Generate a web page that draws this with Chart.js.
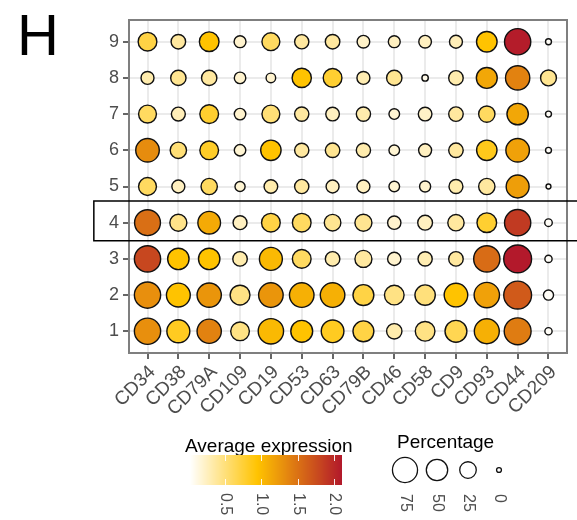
<!DOCTYPE html>
<html>
<head>
<meta charset="utf-8">
<script src="https://cdn.jsdelivr.net/npm/chart.js@4.4.1/dist/chart.umd.min.js"></script>
<style>
  html, body { margin: 0; padding: 0; background: #fff; }
  #wrap { width: 577px; height: 520px; }
</style>
</head>
<body>
<div id="wrap"><canvas id="dotChart" width="577" height="520"></canvas></div>
<script>
// ---- data ----
const genes = ["CD34","CD38","CD79A","CD109","CD19","CD53","CD63","CD79B","CD46","CD58","CD9","CD93","CD44","CD209"];
const clusters = [1, 2, 3, 4, 5, 6, 7, 8, 9];

// % of cells expressing, one row per cluster (1 -> 9), columns follow genes
const pct = [
  [84, 60, 69, 35, 77, 53, 58, 47, 20, 40, 53, 74, 89, 1],
  [84, 66, 69, 41, 71, 71, 71, 47, 40, 44, 64, 77, 97, 5],
  [84, 50, 50, 17, 60, 35, 17, 27, 13, 16, 17, 84, 97, 1],
  [81, 27, 58, 15, 35, 35, 25, 27, 13, 18, 24, 40, 84, 1.3],
  [31, 12, 24, 5, 14, 16, 12, 12, 6, 7, 15, 24, 60, 0],
  [64, 24, 35, 8, 44, 16, 17, 16, 6, 12, 17, 44, 64, 0.2],
  [31, 15, 35, 8, 31, 16, 14, 16, 6, 14, 17, 24, 50, 0.2],
  [12, 20, 20, 8, 4, 38, 35, 12, 20, 0.4, 17, 47, 69, 22],
  [35, 17, 40, 9, 31, 16, 17, 11, 9, 11, 12, 45, 84, 0.2]
];

// average expression, same layout
const avgExp = [
  [1.30, 0.83, 1.39, 0.47, 1.02, 0.95, 0.83, 0.70, 0.32, 0.47, 0.65, 1.08, 1.43, 0.05],
  [1.30, 0.95, 1.26, 0.47, 1.26, 1.08, 1.08, 0.70, 0.47, 0.50, 0.95, 1.18, 1.66, 0.05],
  [1.79, 0.95, 0.95, 0.32, 1.02, 0.60, 0.32, 0.37, 0.20, 0.30, 0.37, 1.54, 2.10, 0.05],
  [1.52, 0.45, 1.12, 0.25, 0.70, 0.60, 0.42, 0.42, 0.20, 0.25, 0.37, 0.77, 1.88, 0.05],
  [0.60, 0.25, 0.60, 0.18, 0.32, 0.37, 0.25, 0.25, 0.18, 0.20, 0.32, 0.37, 1.20, 0.05],
  [1.32, 0.52, 0.80, 0.18, 0.95, 0.37, 0.42, 0.32, 0.18, 0.25, 0.37, 0.85, 1.18, 0.05],
  [0.60, 0.28, 0.78, 0.20, 0.52, 0.37, 0.25, 0.32, 0.18, 0.22, 0.37, 0.60, 1.14, 0.05],
  [0.32, 0.42, 0.37, 0.20, 0.20, 0.95, 0.77, 0.30, 0.42, 0.10, 0.32, 1.14, 1.39, 0.42],
  [0.70, 0.37, 0.95, 0.20, 0.60, 0.37, 0.37, 0.22, 0.25, 0.25, 0.28, 0.95, 2.08, 0.05]
];

const expTicks = [0.5, 1.0, 1.5, 2.0];
const pctBreaks = [75, 50, 25, 0];
const highlightCluster = 4;

// colour scale limits and stops (white -> gold -> dark red)
const expMin = 0.02, expMax = 2.11;
const colorStops = [
  { v: 0.02, c: [255, 255, 255] },
  { v: 0.95, c: [255, 195, 0] },
  { v: 2.11, c: [178, 24, 43] }
];

function expColor(v) {
  v = Math.min(Math.max(v, colorStops[0].v), colorStops[colorStops.length - 1].v);
  for (let i = 0; i < colorStops.length - 1; i++) {
    const a = colorStops[i], b = colorStops[i + 1];
    if (v <= b.v) {
      const t = (v - a.v) / (b.v - a.v);
      const c = a.c.map((ch, k) => Math.round(ch + (b.c[k] - ch) * t));
      return "rgb(" + c.join(",") + ")";
    }
  }
  return "rgb(" + colorStops[colorStops.length - 1].c.join(",") + ")";
}

// dot size: diameter grows with sqrt of percentage
const DOT_BORDER = 1.4;
function dotRadius(p) {
  const d = 6.3 + 2.33 * Math.sqrt(p);
  return (d - DOT_BORDER) / 2;
}

const points = [];
clusters.forEach((cl, ci) => {
  genes.forEach((g, gi) => {
    points.push({ x: gi, y: cl, r: dotRadius(pct[ci][gi]), avg: avgExp[ci][gi] });
  });
});

const FONT = "'Liberation Sans', Arial, sans-serif";

// panel border, cluster box, legends and panel letter
const decorPlugin = {
  id: "decor",
  afterDatasetsDraw(chart) {
    const { ctx, chartArea: a, scales: { x, y } } = chart;
    ctx.save();
    ctx.strokeStyle = "#7f7f7f";
    ctx.lineWidth = 2;
    ctx.strokeRect(a.left, a.top, a.right - a.left, a.bottom - a.top);

    const top = y.getPixelForValue(highlightCluster + 0.6);
    const bot = y.getPixelForValue(highlightCluster - 0.5);
    const left = x.getPixelForValue(-1.74);
    ctx.strokeStyle = "#000";
    ctx.lineWidth = 1.5;
    ctx.beginPath();
    ctx.moveTo(chart.width + 5, top);
    ctx.lineTo(left, top);
    ctx.lineTo(left, bot);
    ctx.lineTo(chart.width + 5, bot);
    ctx.stroke();
    ctx.restore();
  },
  afterDraw(chart) {
    const ctx = chart.ctx;
    ctx.save();

    ctx.fillStyle = "#000";
    ctx.font = "58px " + FONT;
    ctx.textAlign = "left";
    ctx.textBaseline = "alphabetic";
    ctx.fillText("H", 17, 55);

    // colour bar
    ctx.font = "19px " + FONT;
    ctx.fillText("Average expression", 185, 452);
    const bx0 = 190, bx1 = 342, by0 = 455, by1 = 485;
    for (let px = bx0; px < bx1; px++) {
      const v = expMin + (px + 0.5 - bx0) / (bx1 - bx0) * (expMax - expMin);
      ctx.fillStyle = expColor(v);
      ctx.fillRect(px, by0, 1, by1 - by0);
    }
    ctx.strokeStyle = "rgba(255,255,255,0.9)";
    ctx.lineWidth = 1;
    ctx.fillStyle = "#4d4d4d";
    ctx.font = "16px " + FONT;
    expTicks.forEach(t => {
      const px = Math.round(bx0 + (t - expMin) / (expMax - expMin) * (bx1 - bx0)) + 0.5;
      ctx.beginPath();
      ctx.moveTo(px, by0); ctx.lineTo(px, by0 + 6);
      ctx.moveTo(px, by1); ctx.lineTo(px, by1 - 6);
      ctx.stroke();
      ctx.save();
      ctx.translate(px, 493);
      ctx.rotate(Math.PI / 2);
      ctx.textAlign = "left";
      ctx.textBaseline = "middle";
      ctx.fillText(t.toFixed(1), 0, 0);
      ctx.restore();
    });

    // size legend
    ctx.fillStyle = "#000";
    ctx.font = "19px " + FONT;
    ctx.fillText("Percentage", 397, 448);
    const cx = [405, 437, 468, 499];
    pctBreaks.forEach((p, i) => {
      ctx.beginPath();
      ctx.arc(cx[i], 470, dotRadius(p), 0, Math.PI * 2);
      ctx.strokeStyle = "#111";
      ctx.lineWidth = 1.3;
      ctx.stroke();
      ctx.save();
      ctx.translate(cx[i], 494);
      ctx.rotate(Math.PI / 2);
      ctx.fillStyle = "#4d4d4d";
      ctx.font = "16px " + FONT;
      ctx.textAlign = "left";
      ctx.textBaseline = "middle";
      ctx.fillText(String(p), 0, 0);
      ctx.restore();
    });
    ctx.restore();
  }
};

new Chart(document.getElementById("dotChart"), {
  type: "bubble",
  data: {
    datasets: [{
      data: points,
      backgroundColor: (c) => c.raw ? expColor(c.raw.avg) : "#fff",
      borderColor: "#111",
      borderWidth: DOT_BORDER
    }]
  },
  options: {
    responsive: false,
    animation: false,
    events: [],
    layout: { autoPadding: false, padding: { top: 20, right: 10, left: 0, bottom: 0 } },
    plugins: { legend: { display: false }, tooltip: { enabled: false } },
    scales: {
      x: {
        type: "linear",
        min: -0.6,
        max: genes.length - 0.4,
        afterBuildTicks: (s) => { s.ticks = genes.map((g, i) => ({ value: i })); },
        afterFit: (s) => { s.height = 167; s.paddingRight = 0; s.paddingLeft = 0; },
        ticks: {
          autoSkip: false,
          minRotation: 45,
          maxRotation: 45,
          padding: 2,
          labelOffset: 5,
          color: "#4d4d4d",
          font: { family: FONT, size: 19 },
          callback: (v) => genes[v]
        },
        grid: { color: "#ebebeb", lineWidth: 2, tickLength: 6, tickColor: "#333", tickWidth: 1.5 },
        border: { display: false }
      },
      y: {
        type: "linear",
        min: 0.4,
        max: clusters.length + 0.6,
        afterBuildTicks: (s) => { s.ticks = clusters.map(c => ({ value: c })); },
        afterFit: (s) => { s.width = 129; },
        ticks: {
          padding: 4,
          color: "#4d4d4d",
          font: { family: FONT, size: 18 },
          callback: (v) => String(v)
        },
        grid: { color: "#ebebeb", lineWidth: 2, tickLength: 6, tickColor: "#333", tickWidth: 1.5 },
        border: { display: false }
      }
    }
  },
  plugins: [decorPlugin]
});
</script>
</body>
</html>
